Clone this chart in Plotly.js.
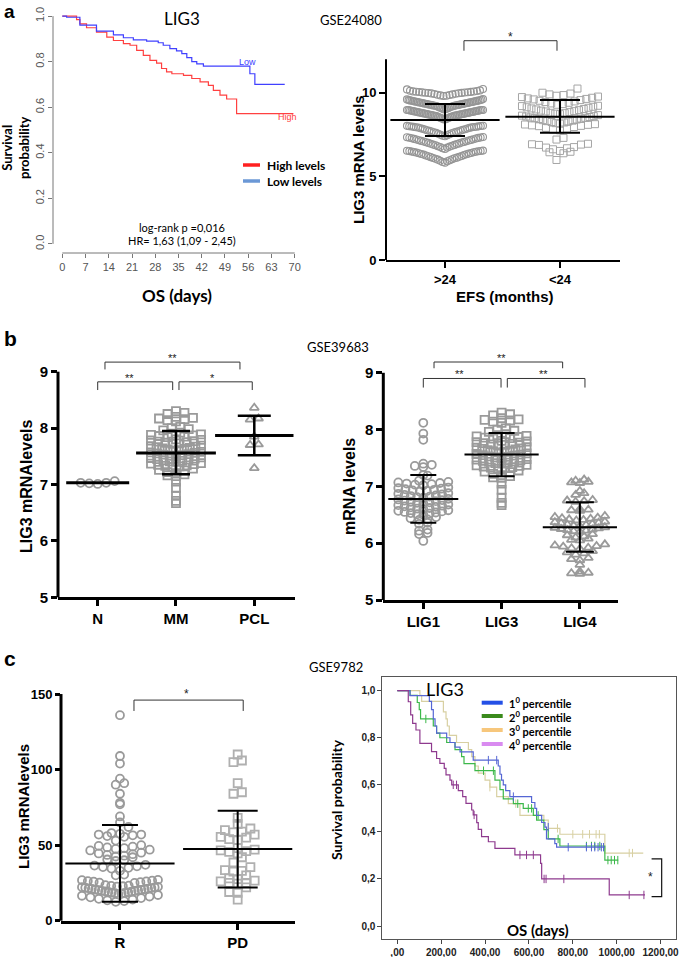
<!DOCTYPE html>
<html><head><meta charset="utf-8">
<script src="https://cdn.plot.ly/plotly-3.0.1.min.js"></script>
<style>html,body{margin:0;padding:0;background:#fff}#chart{width:685px;height:957px}</style>
</head><body><div id="chart"></div>
<script>
// ================= DATA =================
// Panel a (left): Kaplan-Meier, OS
const osTicks = [0,7,14,21,28,35,42,49,56,63,70];
const survTicks = [0,0.2,0.4,0.6,0.8,1.0];
const survTickText = ['0.0','0.2','0.4','0.6','0.8','1.0'];
const lowTime = [0,1.3,5.3,10.3,15.4,18.4,21.4,25.4,28.9,30.4,32.4,34.4,36,37.5,39,40.5,42.5,56.5,58,67];
const lowSurv = [1,0.995,0.96,0.934,0.918,0.905,0.896,0.89,0.883,0.872,0.857,0.847,0.835,0.818,0.80,0.79,0.78,0.747,0.70,0.70];
const highTime = [0,4.3,5.3,7.3,10.3,13.4,15.4,18.4,20.4,22.4,24.4,26.4,28.4,29.9,31.4,33,36.5,39,41.5,44,45.5,47.5,49.5,52.5,69.6];
const highSurv = [1,0.985,0.966,0.949,0.93,0.908,0.893,0.879,0.872,0.85,0.828,0.806,0.794,0.77,0.755,0.747,0.74,0.726,0.711,0.696,0.674,0.653,0.636,0.572,0.572];

// Panel a (right): LIG3 mRNA by EFS, GSE24080
const efsGroups = ['>24','<24'];
const efsGt24 = [5.82,5.86,5.9,5.93,5.96,6.0,6.02,6.05,6.08,6.1,6.12,6.15,6.17,6.2,6.22,6.25,6.27,6.3,6.32,6.34,6.36,6.38,6.4,6.42,6.44,6.45,6.47,6.48,6.5,6.51,6.52,6.53,6.54,
 6.64,6.68,6.72,6.75,6.78,6.8,6.83,6.86,6.88,6.9,6.93,6.95,6.97,7.0,7.02,7.04,7.06,7.08,7.1,7.12,7.14,7.16,7.18,7.2,7.22,7.24,7.26,7.28,7.3,7.31,7.32,7.34,7.35,
 7.4,7.43,7.46,7.49,7.52,7.55,7.58,7.6,7.62,7.64,7.66,7.68,7.7,7.72,7.74,7.76,7.78,7.8,7.82,7.84,7.86,7.88,7.9,7.92,7.93,7.94,7.95,7.96,7.97,7.98,7.99,8.0,8.01,8.02,8.03,
 8.4,8.42,8.44,8.46,8.48,8.5,8.52,8.54,8.56,8.58,8.6,8.61,8.62,8.63,8.64,8.65,8.66,8.67,8.68,8.69,8.7,8.71,8.72,8.73,8.74,8.75,8.76,8.77,8.78,8.79,8.8,8.81,8.82,8.83,8.84,8.85,8.86,8.87,8.88,8.89,8.9,8.91,8.92,8.93,8.94,8.95,8.96,8.97,8.97,8.97,
 9.0,9.02,9.04,9.06,9.08,9.1,9.12,9.14,9.16,9.18,9.2,9.21,9.22,9.23,9.24,9.25,9.26,9.27,9.28,9.29,9.3,9.31,9.32,9.33,9.34,9.35,9.36,9.37,9.38,9.39,9.4,9.41,9.42,9.43,9.44,9.45,9.46,9.47,9.48,9.49,9.5,9.51,9.52,9.53,9.54,9.55,9.56,9.58,9.6,9.62,
 9.8,9.82,9.84,9.86,9.88,9.9,9.92,9.94,9.96,9.97,9.98,9.99,10.0,10.01,10.02,10.03,10.04,10.05,10.06,10.07,10.08,10.1,10.12,10.14,10.2,10.22];
const efsLt24 = [5.98,6.38,6.44,6.47,6.52,6.62,6.68,6.72,6.75,6.88,6.9,6.92,6.95,7.2,7.3,
 7.75,7.8,7.85,7.9,7.95,8.0,8.02,8.05,8.08,8.1,8.12,8.15,
 8.18,8.22,8.25,8.28,8.3,8.33,8.36,8.4,8.42,8.45,8.48,8.5,8.52,8.55,8.58,8.6,8.63,8.66,
 8.72,8.75,8.78,8.8,8.84,8.88,8.9,8.93,8.96,9.0,9.03,9.06,9.1,9.13,9.16,9.2,9.22,
 9.28,9.32,9.36,9.4,9.44,9.48,9.52,9.56,9.6,9.63,9.66,9.7,9.74,9.77,
 9.82,9.86,9.9,9.95,10.0,10.25];
const efsMean = [8.37, 8.57];
const efsSdLow = [7.41, 7.61];
const efsSdHigh = [9.32, 9.56];

// Panel b (left): GSE39683, N / MM / PCL
const bGroups = ['N','MM','PCL'];
const nVals = [7.03,7.02,7.01,7.03,7.06];
const mmVals = [8.3,8.27,8.25,8.2,8.18,8.17,8.16,8.14,8.12,8.02,8.0,7.98,7.96,
 7.92,7.9,7.89,7.88,7.87,7.86,7.85,7.84,7.8,7.79,7.78,7.77,7.76,7.75,7.74,7.73,7.72,
 7.69,7.68,7.67,7.66,7.65,7.64,7.63,7.62,7.61,7.6,7.58,7.57,7.56,7.55,7.54,7.53,7.52,7.51,7.5,
 7.48,7.47,7.46,7.45,7.44,7.43,7.42,7.41,7.4,7.38,7.37,7.36,7.35,7.34,7.33,7.32,7.31,
 7.28,7.26,7.25,7.22,7.2,7.18,7.16,7.15,7.05,6.94,6.8,6.71,6.67];
const pclVals = [8.36,8.17,8.15,7.85,7.71,7.70,7.29];
const bMean = [7.03, 7.56, 7.87];
const bSdLow = [7.03, 7.18, 7.52];
const bSdHigh = [7.03, 7.95, 8.22];

// Panel b (right): LIG1 / LIG3 / LIG4
const ligGroups = ['LIG1','LIG3','LIG4'];
const lig1Vals = [8.12,7.93,7.82,7.4,7.38,7.36,7.34,7.2,7.19,
 7.1,7.08,7.07,7.06,7.05,7.04,7.03,7.02,6.98,6.97,6.96,6.95,6.94,6.93,6.92,6.91,
 6.88,6.87,6.86,6.85,6.84,6.83,6.82,6.81,6.8,6.78,6.77,6.76,6.75,6.74,6.73,6.72,6.71,6.7,
 6.68,6.67,6.66,6.65,6.64,6.63,6.62,6.61,6.6,6.58,6.57,6.56,6.55,6.54,6.53,6.52,6.51,6.5,
 6.46,6.44,6.42,6.41,6.36,6.34,6.24,6.22,6.18,6.16,6.04];
const lig3Vals = mmVals; // same LIG3 expression data as MM group
const lig4Vals = [7.12,7.1,7.08,7.07,7.06,6.92,6.88,6.85,6.76,6.75,6.74,6.73,6.6,6.59,6.58,6.57,
 6.48,6.46,6.45,6.44,6.43,6.42,6.41,6.4,6.38,6.37,6.36,6.35,6.34,6.33,6.32,6.31,6.3,
 6.28,6.27,6.26,6.25,6.24,6.23,6.22,6.21,6.2,6.16,6.14,6.12,6.1,6.08,6.06,6.05,
 5.98,5.96,5.95,5.94,5.92,5.91,5.9,5.86,5.84,5.82,5.8,5.74,5.72,5.7,5.62,5.5,5.48,5.47,5.46];
const ligMean = [6.78, 7.56, 6.28];
const ligSdLow = [6.36, 7.18, 5.85];
const ligSdHigh = [7.2, 7.94, 6.72];

// Panel c (left): GSE9782, R / PD
const respGroups = ['R','PD'];
const rVals = [136,109,104,94,91,90,84,78,77,69,65,62,58,57.5,57,57,56.5,56,55.5,
 53,50,49.5,49,48.5,48,47.5,47,46.5,45,44.5,44,43.5,43,42.5,42,40.5,40,39.5,
 37,36.5,36,35.5,35,34.5,33,30.5,30,27,26.8,26.5,26.2,26,25.8,25.5,25.2,25,
 23.5,23.2,23,22.8,22.6,22.4,22.2,22,21.8,21.6,21.4,21.2,21,20.8,20.6,20.4,20.2,20,
 19.8,19.6,19.4,19.2,19,18.8,18.6,18.4,18.2,18,17.5,17,16.5,16,15.5,15,14.5,14,13.5,13,12.5];
const pdVals = [110,106,105,91,85,84,68,64,61,60,59,58.5,57,55.5,55,54,53.5,48,47,46.5,46,45.5,44.5,42,
 38.5,35.5,33.5,33,32.5,30,28,27.5,26.5,26,25,25,24.5,22,19,18.5,14];
const respMean = [37.9, 47.4];
const respSdLow = [12.6, 22.0];
const respSdHigh = [63.3, 72.8];

// Panel c (right): KM by LIG3 percentile
const daysTicks = [0,200,400,600,800,1000,1200];
const daysTickText = [',00','200,00','400,00','600,00','800,00','1000,00','1200,00'];
const probTicks = [0,0.2,0.4,0.6,0.8,1.0];
const probTickText = ['0,0','0,2','0,4','0,6','0,8','1,0'];
const pctNames = ['1<sup>0</sup> percentile','2<sup>0</sup> percentile','3<sup>0</sup> percentile','4<sup>0</sup> percentile'];
const p1Time = [0,58,146,156,164,172,179,225,240,263,286,346,460,468,475,483,494,513,612,627,635,658,673,680,718,726,946];
const p1Surv = [1,0.979,0.955,0.92,0.88,0.85,0.82,0.80,0.78,0.76,0.74,0.705,0.68,0.645,0.62,0.6,0.575,0.55,0.525,0.5,0.47,0.44,0.42,0.37,0.35,0.335,0.335];
const p1CensT = [415,453,529,688,779,862,885,900,915,930,940];
const p1CensS = [0.705,0.705,0.55,0.42,0.335,0.335,0.335,0.335,0.335,0.335,0.335];
const p2Time = [0,58,91,100,106,164,179,194,225,263,293,304,354,445,468,483,529,574,620,635,668,688,741,946,1007];
const p2Surv = [1,0.98,0.95,0.92,0.88,0.85,0.82,0.80,0.78,0.75,0.72,0.69,0.66,0.62,0.58,0.54,0.52,0.50,0.47,0.45,0.41,0.37,0.34,0.28,0.28];
const p2CensT = [130,393,438,549,597,612,642,733,862,885,900,923,960,975,990,1005];
const p2CensS = [0.88,0.66,0.66,0.52,0.50,0.50,0.47,0.37,0.34,0.34,0.34,0.34,0.28,0.28,0.28,0.28];
const p3Time = [0,103,111,210,222,228,237,270,324,339,354,369,400,422,453,506,559,668,688,741,946,1121];
const p3Surv = [1,0.98,0.955,0.91,0.88,0.85,0.81,0.78,0.75,0.72,0.68,0.65,0.62,0.59,0.55,0.52,0.47,0.45,0.415,0.39,0.31,0.31];
const p3CensT = [422,540,730,800,845,876,906,921,1057,1072];
const p3CensS = [0.59,0.52,0.415,0.39,0.39,0.39,0.39,0.39,0.31,0.31];
const p4Time = [0,50,61,70,85,103,156,179,194,214,222,240,248,278,298,313,339,346,362,369,384,415,445,536,653,658,966,1129];
const p4Surv = [1,0.953,0.897,0.861,0.833,0.776,0.741,0.712,0.691,0.67,0.642,0.62,0.6,0.575,0.55,0.521,0.493,0.472,0.439,0.411,0.38,0.358,0.33,0.302,0.266,0.2,0.132,0.132];
const p4CensT = [255,270,350,559,589,620,669,678,759,1057,1124];
const p4CensS = [0.6,0.6,0.472,0.302,0.302,0.302,0.2,0.2,0.2,0.132,0.132];

// ================= HELPERS =================
const W = 685, H = 957;
const PX = p => p / W;
const PY = p => 1 - p / H;
const NARROW = "'Liberation Sans Narrow','Arial Narrow','Liberation Sans',Arial,sans-serif";
const ARIAL = "'Liberation Sans',Arial,sans-serif";
const CAL = "Lato,'Open Sans',sans-serif";

function swarmOffsets(vals, binStart, binW, dPx, halfPx, pxPerX) {
  const idx = vals.map((v, i) => i).sort((a, b) => vals[a] - vals[b]);
  const bins = {};
  idx.forEach(i => {
    const b = Math.floor((vals[i] - binStart) / binW + 1e-9);
    (bins[b] = bins[b] || []).push(i);
  });
  const off = new Array(vals.length).fill(0);
  Object.keys(bins).forEach(key => {
    const list = bins[key];
    const n = list.length;
    const s = n > 1 ? Math.min(dPx, 2 * halfPx / (n - 1)) : 0;
    list.forEach((i, k) => {
      let o;
      if (n % 2 === 1) { const m = Math.ceil(k / 2); o = (k === 0 ? 0 : (k % 2 === 1 ? -m : m)) * s; }
      else { const m = Math.floor(k / 2); o = (k % 2 === 0 ? -(m + 0.5) : (m + 0.5)) * s; }
      off[i] = o / pxPerX;
    });
  });
  return off;
}

const traces = [];
function dots(xa, ya, xpos, vals, o) {
  const off = swarmOffsets(vals, o.binStart, o.binW, o.d, o.half, o.ppx);
  traces.push({
    x: vals.map((v, i) => xpos + off[i]), y: vals, xaxis: xa, yaxis: ya,
    type: 'scatter', mode: 'markers', cliponaxis: false, hoverinfo: 'skip',
    marker: {symbol: o.symbol, size: o.size, color: o.color, line: {width: o.lw, color: o.color}}
  });
}
function meanSd(xa, ya, xpos, mean, lo, hi, len, cap, lw, elw) {
  traces.push({
    x: [xpos], y: [mean], xaxis: xa, yaxis: ya, type: 'scatter', mode: 'markers', cliponaxis: false,
    marker: {symbol: 'line-ew', size: len, color: '#000', line: {width: lw, color: '#000'}},
    error_y: {type: 'data', symmetric: false, array: [hi - mean], arrayminus: [mean - lo], width: cap, thickness: elw, color: '#000'}
  });
}

// ================= TRACES =================
// a-left KM
traces.push({x: highTime, y: highSurv, xaxis: 'x', yaxis: 'y', type: 'scatter', mode: 'lines', line: {shape: 'hv', color: '#ff4040', width: 1.2}});
traces.push({x: lowTime, y: lowSurv, xaxis: 'x', yaxis: 'y', type: 'scatter', mode: 'lines', line: {shape: 'hv', color: '#4040ff', width: 1.2}});

// a-right
const aOpt = {binStart: 5.78, binW: 0.8, d: 7, half: 38, ppx: 115, size: 7, lw: 1.1, color: '#959595'};
dots('x2', 'y2', 0, efsGt24, Object.assign({symbol: 'circle-open'}, aOpt));
dots('x2', 'y2', 1, efsLt24, Object.assign({}, aOpt, {symbol: 'square-open', binStart: 5.95, binW: 0.55, size: 7, color: '#a5a5a5', lw: 1}));
efsGroups.forEach((g, i) => meanSd('x2', 'y2', i, efsMean[i], efsSdLow[i], efsSdHigh[i], 78, 20, 2, 2));

// b-left
const bOpt = {binStart: 5, binW: 0.1, d: 8.5, half: 25, ppx: 78.3, size: 8, lw: 1.8, color: '#9a9a9a'};
dots('x3', 'y3', 0, nVals, Object.assign({}, bOpt, {symbol: 'circle-open', binW: 0.2}));
dots('x3', 'y3', 1, mmVals, Object.assign({}, bOpt, {symbol: 'square-open'}));
dots('x3', 'y3', 2, pclVals, Object.assign({}, bOpt, {symbol: 'triangle-up-open', binW: 0.2}));
const bLen = [45, 57, 56], bCap = [0, 14, 16.5];
bGroups.forEach((g, i) => meanSd('x3', 'y3', i, bMean[i], bSdLow[i], bSdHigh[i], bLen[i], bCap[i], 3, 2.5));

// b-right
dots('x4', 'y4', 0, lig1Vals, Object.assign({}, bOpt, {symbol: 'circle-open'}));
dots('x4', 'y4', 1, lig3Vals, Object.assign({}, bOpt, {symbol: 'square-open'}));
dots('x4', 'y4', 2, lig4Vals, Object.assign({}, bOpt, {symbol: 'triangle-up-open'}));
const lLen = [50, 53, 53], lCap = [13, 13, 14];
ligGroups.forEach((g, i) => meanSd('x4', 'y4', i, ligMean[i], ligSdLow[i], ligSdHigh[i], lLen[i], lCap[i], 2, 2));

// c-left
const cOpt = {binStart: 2.5, binW: 5, d: 8.5, half: 38, ppx: 117.7, size: 8, lw: 1.8};
dots('x5', 'y5', 0, rVals, Object.assign({}, cOpt, {symbol: 'circle-open', color: '#9a9a9a'}));
dots('x5', 'y5', 1, pdVals, Object.assign({}, cOpt, {symbol: 'square-open', color: '#b0b0b0'}));
respGroups.forEach((g, i) => meanSd('x5', 'y5', i, respMean[i], respSdLow[i], respSdHigh[i], 78, i ? 20 : 18, 2, 2));

// c-right KM
const kmSets = [
  [p3Time, p3Surv, p3CensT, p3CensS, '#d8d0a2'],
  [p2Time, p2Surv, p2CensT, p2CensS, '#3cb84a'],
  [p1Time, p1Surv, p1CensT, p1CensS, '#5566d4'],
  [p4Time, p4Surv, p4CensT, p4CensS, '#8e3a8e']
];
kmSets.forEach(s => {
  traces.push({x: s[0], y: s[1], xaxis: 'x6', yaxis: 'y6', type: 'scatter', mode: 'lines', line: {shape: 'hv', color: s[4], width: 1.2}});
  traces.push({x: s[2], y: s[3], xaxis: 'x6', yaxis: 'y6', type: 'scatter', mode: 'markers', marker: {symbol: 'line-ns', size: 6, line: {width: 1, color: s[4]}}});
});

// ================= LAYOUT =================
function dotX(dom, range, groups, lw, fs) {
  return {domain: dom, range: range, tickvals: groups.map((g, i) => i), ticktext: groups,
    ticks: 'outside', ticklen: 6, tickwidth: lw, tickcolor: '#000', showline: true, linewidth: lw, linecolor: '#000',
    showgrid: false, zeroline: false, tickfont: {family: NARROW, size: fs, color: '#000', weight: 'bold'}};
}
function dotY(dom, range, tv, lw, fs) {
  return {domain: dom, range: range, tickvals: tv, ticks: 'outside', ticklen: 6, tickwidth: lw, tickcolor: '#000',
    showline: false, showgrid: false, zeroline: false, tickfont: {family: NARROW, size: fs, color: '#000', weight: 'bold'}};
}
const grayTick = {family: ARIAL, size: 11, color: '#555'};

const layout = {
  width: W, height: H, margin: {l: 0, r: 0, t: 0, b: 0}, showlegend: false,
  paper_bgcolor: '#fff', plot_bgcolor: 'rgba(0,0,0,0)',
  xaxis: {domain: [PX(53), PX(304)], range: [-2.8, 72.8], anchor: 'y', tickvals: osTicks, ticks: 'outside', ticklen: 4,
    tickcolor: '#777', showline: false, showgrid: false, zeroline: false, tickfont: grayTick},
  yaxis: {domain: [PY(253), PY(7)], range: [-0.04, 1.04], anchor: 'x', tickvals: survTicks, ticktext: survTickText,
    tickangle: -90, ticks: 'outside', ticklen: 4, tickcolor: '#777', showline: false, showgrid: false, zeroline: false, tickfont: grayTick},
  xaxis2: Object.assign(dotX([PX(386), PX(620)], [-0.513, 1.522], efsGroups, 2, 13), {anchor: 'y2'}),
  yaxis2: Object.assign(dotY([PY(260), PY(30)], [0, 13.75], [0, 5, 10], 2, 13), {anchor: 'x2'}),
  xaxis3: Object.assign(dotX([PX(58), PX(295)], [-0.507, 2.52], bGroups, 3, 15), {anchor: 'y3'}),
  yaxis3: Object.assign(dotY([PY(597.3), PY(352)], [5, 9.349], [5, 6, 7, 8, 9], 3, 15), {anchor: 'x3'}),
  xaxis4: Object.assign(dotX([PX(383.3), PX(618)], [-0.511, 2.487], ligGroups, 3, 15), {anchor: 'y4'}),
  yaxis4: Object.assign(dotY([PY(600), PY(352)], [5, 9.366], [5, 6, 7, 8, 9], 3, 15), {anchor: 'x4'}),
  xaxis5: Object.assign(dotX([PX(61), PX(295)], [-0.501, 1.487], respGroups, 3, 15), {anchor: 'y5'}),
  yaxis5: Object.assign(dotY([PY(920.7), PY(683)], [0, 157.3], [0, 50, 100, 150], 3, 13), {anchor: 'x5', ticklen: 5}),
  xaxis6: {domain: [PX(382.3), PX(675.7)], range: [-68.4, 1268.9], anchor: 'y6', tickvals: daysTicks, ticktext: daysTickText,
    ticks: 'outside', ticklen: 4, tickcolor: '#444', showline: true, mirror: true, linecolor: '#555', linewidth: 1,
    showgrid: false, zeroline: false, tickfont: {family: ARIAL, size: 10, color: '#222', weight: 'bold'}},
  yaxis6: {domain: [PY(939.3), PY(677.3)], range: [-0.0565, 1.057], anchor: 'x6', tickvals: probTicks, ticktext: probTickText,
    ticks: 'outside', ticklen: 4, tickcolor: '#444', showline: true, mirror: true, linecolor: '#555', linewidth: 1,
    showgrid: false, zeroline: false, tickfont: {family: ARIAL, size: 10, color: '#222', weight: 'bold'}},
  shapes: [], annotations: []
};

// axis lines (as shapes) for R-style KM and dot plots
function yLineShape(ax, v0, v1, lw, color) {
  const ya = layout['yaxis' + ax], xa = layout['xaxis' + ax];
  const f = v => ya.domain[0] + (v - ya.range[0]) / (ya.range[1] - ya.range[0]) * (ya.domain[1] - ya.domain[0]);
  layout.shapes.push({type: 'line', xref: 'paper', yref: 'paper', x0: xa.domain[0], x1: xa.domain[0], y0: f(v0), y1: f(v1), line: {width: lw, color: color}});
}
(function () {
  const ya = layout.yaxis, xa = layout.xaxis;
  const fy = v => ya.domain[0] + (v - ya.range[0]) / (ya.range[1] - ya.range[0]) * (ya.domain[1] - ya.domain[0]);
  const fx = v => xa.domain[0] + (v - xa.range[0]) / (xa.range[1] - xa.range[0]) * (xa.domain[1] - xa.domain[0]);
  layout.shapes.push({type: 'line', xref: 'paper', yref: 'paper', x0: xa.domain[0], x1: xa.domain[0], y0: fy(0), y1: fy(1), line: {width: 1, color: '#777'}});
  layout.shapes.push({type: 'line', xref: 'paper', yref: 'paper', x0: fx(0), x1: fx(70), y0: ya.domain[0], y1: ya.domain[0], line: {width: 1, color: '#777'}});
})();
yLineShape('2', 0, 12, 2, '#000');
yLineShape('3', 5, 9, 3, '#000');
yLineShape('4', 5, 9, 3, '#000');
yLineShape('5', 0, 150, 3, '#000');

// significance brackets (data coords)
function bracket(ax, x0, x1, yTop, yBot, color) {
  layout.shapes.push({type: 'path', xref: 'x' + ax, yref: 'y' + ax,
    path: `M${x0},${yBot} L${x0},${yTop} L${x1},${yTop} L${x1},${yBot}`, line: {width: 1, color: color || '#333'}});
}
function star(ax, x, y, txt, size) {
  layout.annotations.push({xref: 'x' + ax, yref: 'y' + ax, x: x, y: y, text: txt, showarrow: false,
    font: {family: ARIAL, size: size || 12, color: '#222'}, yanchor: 'middle'});
}
bracket('2', 0.165, 0.974, 13.11, 12.51); star('2', 0.57, 13.35, '*');
bracket('3', 0, 0.958, 8.82, 8.675); star('3', 0.41, 8.89, '**', 11);
bracket('3', 1.038, 1.974, 8.82, 8.675); star('3', 1.46, 8.89, '*', 11);
bracket('3', 0.093, 1.817, 9.17, 9.04); star('3', 0.955, 9.24, '**', 11);
bracket('4', 0, 0.993, 8.9, 8.74); star('4', 0.456, 8.97, '**', 11);
bracket('4', 1.073, 2.065, 8.9, 8.74); star('4', 1.54, 8.97, '**', 11);
bracket('4', 0.137, 1.78, 9.19, 9.08); star('4', 0.996, 9.26, '**', 11);
bracket('5', 0.119, 1.047, 146, 138.8); star('5', 0.561, 150, '*');
layout.shapes.push({type: 'path', xref: 'x6', yref: 'y6', path: 'M1159,0.285 L1205,0.285 L1205,0.1245 L1159,0.1245', line: {width: 1.2, color: '#111'}});
star('6', 1152, 0.21, '*', 12);

// legend items (decorations)
function legLine(x0, x1, y, color, w) {
  layout.shapes.push({type: 'line', xref: 'paper', yref: 'paper', x0: PX(x0), x1: PX(x1), y0: PY(y), y1: PY(y), line: {width: w, color: color}});
}
function txt(x, y, text, font, opts) {
  layout.annotations.push(Object.assign({xref: 'paper', yref: 'paper', x: PX(x), y: PY(y), text: text, showarrow: false, font: font,
    xanchor: 'center', yanchor: 'middle'}, opts || {}));
}
legLine(243, 260, 165, '#ff2020', 3.5);
legLine(243, 260, 181, '#6b98d6', 3.5);
txt(265, 165, '<b>High levels</b>', {family: CAL, size: 12, color: '#000'}, {xanchor: 'left'});
txt(265, 181, '<b>Low levels</b>', {family: CAL, size: 12, color: '#000'}, {xanchor: 'left'});
const pctColors = ['#2450e6', '#3a8a1c', '#f7c77c', '#d98bf0'];
[702.7, 716, 730, 744].forEach((y, i) => {
  legLine(481.7, 502.7, y, pctColors[i], 4);
  txt(507, y, '<b>' + pctNames[i] + '</b>', {family: CAL, size: 11, color: '#000'}, {xanchor: 'left'});
});

// texts
txt(2, 12, '<b>a</b>', {family: ARIAL, size: 19, color: '#000'}, {xanchor: 'left'});
txt(2, 339, '<b>b</b>', {family: ARIAL, size: 21, color: '#000'}, {xanchor: 'left'});
txt(2, 658, '<b>c</b>', {family: ARIAL, size: 21, color: '#000'}, {xanchor: 'left'});
txt(182, 19, 'LIG3', {family: CAL, size: 17, color: '#000'});
txt(351, 20, 'GSE24080', {family: CAL, size: 13, color: '#000'});
txt(338, 347, 'GSE39683', {family: CAL, size: 13, color: '#000'});
txt(336, 667, 'GSE9782', {family: CAL, size: 13, color: '#000'});
txt(182, 227.5, 'log-rank p =0,016', {family: CAL, size: 11, color: '#000'});
txt(182, 240.5, 'HR= 1,63 (1,09 - 2,45)', {family: CAL, size: 11, color: '#000'});
txt(177, 295, '<b>OS (days)</b>', {family: CAL, size: 17, color: '#000'});
txt(15, 148, '<b>Survival<br>probability</b>', {family: CAL, size: 13, color: '#000'}, {textangle: -90});
layout.annotations.push({xref: 'x', yref: 'y', x: 52.6, y: 0.8, text: 'Low', showarrow: false, xanchor: 'left', font: {family: ARIAL, size: 9, color: '#4040ff'}});
layout.annotations.push({xref: 'x', yref: 'y', x: 64.4, y: 0.558, text: 'High', showarrow: false, xanchor: 'left', font: {family: ARIAL, size: 9, color: '#ff4040'}});
txt(358, 160, '<b>LIG3 mRNA levels</b>', {family: ARIAL, size: 15, color: '#000'}, {textangle: -90});
txt(505, 297, '<b>EFS (months)</b>', {family: NARROW, size: 15, color: '#000'});
txt(27, 487, '<b>LIG3 mRNAlevels</b>', {family: ARIAL, size: 16, color: '#000'}, {textangle: -90});
txt(350, 487, '<b>mRNA levels</b>', {family: ARIAL, size: 16, color: '#000'}, {textangle: -90});
txt(23, 807, '<b>LIG3 mRNAlevels</b>', {family: ARIAL, size: 15, color: '#000'}, {textangle: -90});
txt(336, 800, '<b>Survival probability</b>', {family: CAL, size: 14, color: '#000'}, {textangle: -90});
txt(538, 930, '<b>OS (days)</b>', {family: CAL, size: 15, color: '#000'});
txt(445, 689, 'LIG3', {family: CAL, size: 18, color: '#000'});

Plotly.newPlot('chart', traces, layout, {staticPlot: true, displayModeBar: false});
</script></body></html>
